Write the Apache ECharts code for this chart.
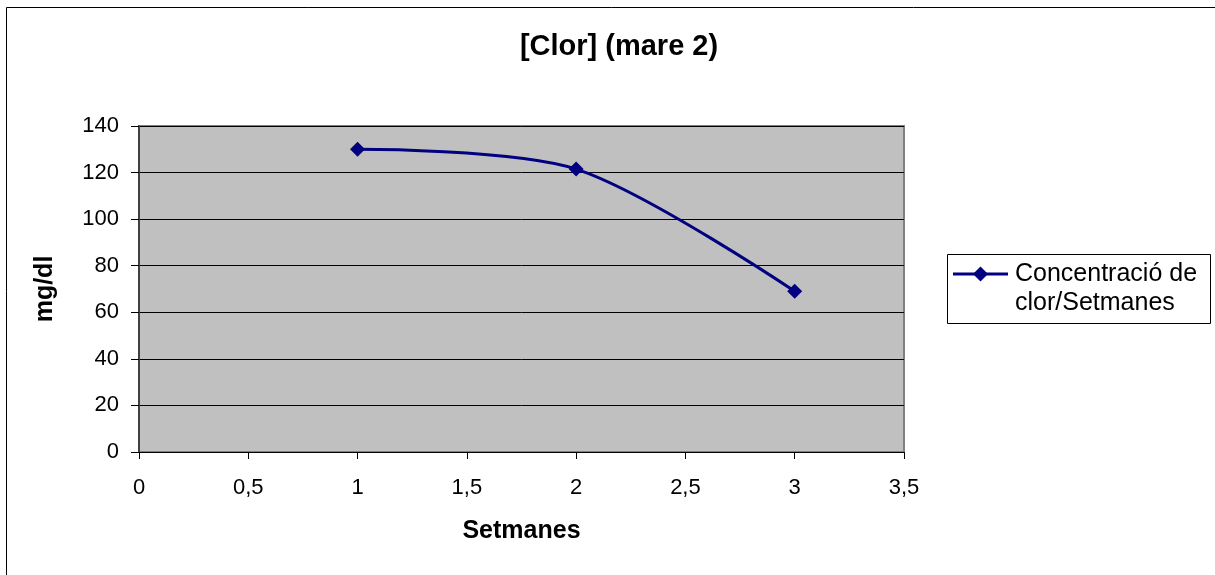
<!DOCTYPE html>
<html>
<head>
<meta charset="utf-8">
<script src="https://cdn.jsdelivr.net/npm/echarts@6/dist/echarts.min.js"></script>
<style>
  html, body { margin: 0; padding: 0; background: #fff; }
  #chart { width: 1215px; height: 575px; }
</style>
</head>
<body>
<div id="chart"></div>
<script>
// dades llegides del gràfic
const setmanes = [1, 2, 3]
const concentracio = [130, 121.5, 69]
const serieName = 'Concentració de\nclor/Setmanes'

const chart = echarts.init(document.getElementById('chart'))
const font = "'Liberation Sans', Arial, sans-serif"
const navy = '#000080'

const option = {
  animation: false,
  backgroundColor: '#fff',
  title: {
    text: '[Clor] (mare 2)',
    left: 614,
    top: 27,
    textAlign: 'center',
    textStyle: { fontFamily: font, fontSize: 29, fontWeight: 'bold', color: '#000' }
  },
  grid: {
    left: 139,
    top: 126,
    right: 311,
    bottom: 123,
    show: true,
    backgroundColor: '#c0c0c0',
    borderColor: '#808080',
    borderWidth: 2
  },
  xAxis: {
    type: 'value',
    min: 0,
    max: 3.5,
    interval: 0.5,
    name: 'Setmanes',
    nameLocation: 'middle',
    nameGap: 67,
    nameTextStyle: { fontFamily: font, fontSize: 25, fontWeight: 'bold', color: '#000' },
    axisLine: { show: true, onZero: false, lineStyle: { color: '#000', width: 1 } },
    axisTick: { show: true, length: 7, lineStyle: { color: '#000' } },
    axisLabel: {
      fontFamily: font, fontSize: 22, color: '#000', margin: 25,
      formatter: v => String(v).replace('.', ',')
    },
    splitLine: { show: false }
  },
  yAxis: {
    type: 'value',
    min: 0,
    max: 140,
    interval: 20,
    name: 'mg/dl',
    nameLocation: 'middle',
    nameGap: 81,
    nameRotate: 90,
    nameTextStyle: { fontFamily: font, fontSize: 25, fontWeight: 'bold', color: '#000' },
    axisLine: { show: true, lineStyle: { color: '#404040', width: 2 } },
    axisTick: { show: true, length: 8, lineStyle: { color: '#000' } },
    axisLabel: { fontFamily: font, fontSize: 22, color: '#000', margin: 20 },
    splitLine: { show: true, lineStyle: { color: '#000', width: 1 } }
  },
  series: [
    {
      name: serieName,
      type: 'line',
      smooth: 0.3,
      data: setmanes.map((x, i) => [x, concentracio[i]]),
      symbol: 'diamond',
      symbolSize: 15,
      lineStyle: { color: navy, width: 3 },
      itemStyle: { color: navy }
    }
  ],
  graphic: [
    // marc exterior
    {
      type: 'rect',
      shape: { x: 6.5, y: 7.5, width: 1300, height: 700 },
      style: { fill: 'none', stroke: '#000', lineWidth: 1 },
      silent: true
    },
    // llegenda
    {
      type: 'group',
      left: 947,
      top: 254,
      children: [
        {
          type: 'rect',
          shape: { x: 0.5, y: 0.5, width: 263, height: 69 },
          style: { fill: '#fff', stroke: '#000', lineWidth: 1 }
        },
        {
          type: 'line',
          shape: { x1: 6, y1: 20, x2: 61, y2: 20 },
          style: { stroke: navy, lineWidth: 3 }
        },
        {
          type: 'polygon',
          shape: { points: [[33.5, 12.5], [41, 20], [33.5, 27.5], [26, 20]] },
          style: { fill: navy }
        },
        {
          type: 'text',
          x: 68,
          y: 6,
          style: {
            text: serieName,
            font: '25px ' + font,
            lineHeight: 29,
            fill: '#000',
            verticalAlign: 'top'
          }
        }
      ]
    }
  ]
}

chart.setOption(option)
</script>
</body>
</html>
